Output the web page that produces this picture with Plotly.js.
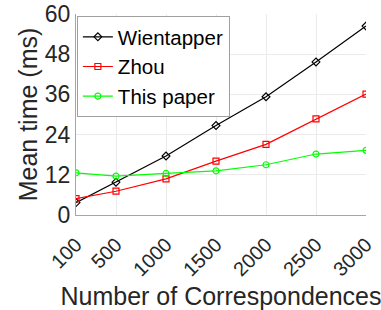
<!DOCTYPE html>
<html><head><meta charset="utf-8">
<script src="https://cdn.plot.ly/plotly-3.0.1.min.js"></script>
<style>html,body{margin:0;padding:0;background:#fff}#chart{width:381px;height:310px}</style>
</head><body><div id="chart"></div>
<script>
const correspondences = [100, 500, 1000, 1500, 2000, 2500, 3000];
const wientapper = [3.7, 9.8, 17.6, 26.7, 35.3, 45.7, 56.4];
const zhou = [4.9, 7.1, 10.8, 16.1, 21.1, 28.7, 36.1];
const thisPaper = [12.6, 11.6, 12.4, 13.2, 15.0, 18.2, 19.3];
const yTicks = [0, 12, 24, 36, 48, 60];

const mk = (name, y, color, symbol) => ({
  x: correspondences, y: y, name: name, type: 'scatter', mode: 'lines+markers',
  line: {color: color, width: 1.2},
  marker: {symbol: symbol, size: 6, color: color, line: {width: 1.2}}
});
const data = [
  mk('Wientapper', wientapper, '#000000', 'diamond-open'),
  mk('Zhou', zhou, '#ff0000', 'square-open'),
  mk('This paper', thisPaper, '#00ff00', 'circle-open')
];
const font = {family: 'Liberation Sans, Arial, sans-serif', color: '#262626'};
const layout = {
  width: 381, height: 310,
  margin: {l: 76, r: 15, t: 14, b: 95},
  paper_bgcolor: '#fff', plot_bgcolor: '#fff',
  font: font,
  showlegend: true,
  legend: {x: 0.003, y: 0.99, xanchor: 'left', yanchor: 'top', bgcolor: '#fff',
    bordercolor: '#a0a0a0', borderwidth: 1, font: {size: 20.5, color: '#000'},
    tracegroupgap: 0, itemwidth: 30},
  xaxis: {
    range: [100, 3000], tickvals: correspondences, ticktext: correspondences.map(String),
    tickangle: -45, tickfont: {size: 20, color: '#262626'},
    ticklabelstandoff: 9,
    showgrid: true, gridcolor: '#ebebeb', zeroline: false,
    showline: true, linecolor: '#a6a6a6', linewidth: 1,
    ticks: '',
    title: {text: 'Number of Correspondences', font: {size: 25, color: '#262626'}, standoff: 10}
  },
  yaxis: {
    range: [0, 60], tickvals: yTicks, ticktext: yTicks.map(String),
    tickfont: {size: 23, color: '#262626'},
    showgrid: true, gridcolor: '#ebebeb', zeroline: false,
    showline: true, linecolor: '#a6a6a6', linewidth: 1,
    ticks: '',
    title: {text: 'Mean time (ms)', font: {size: 25, color: '#262626'}, standoff: 0}
  }
};
Plotly.newPlot('chart', data, layout, {displayModeBar: false, staticPlot: true});
</script></body></html>
